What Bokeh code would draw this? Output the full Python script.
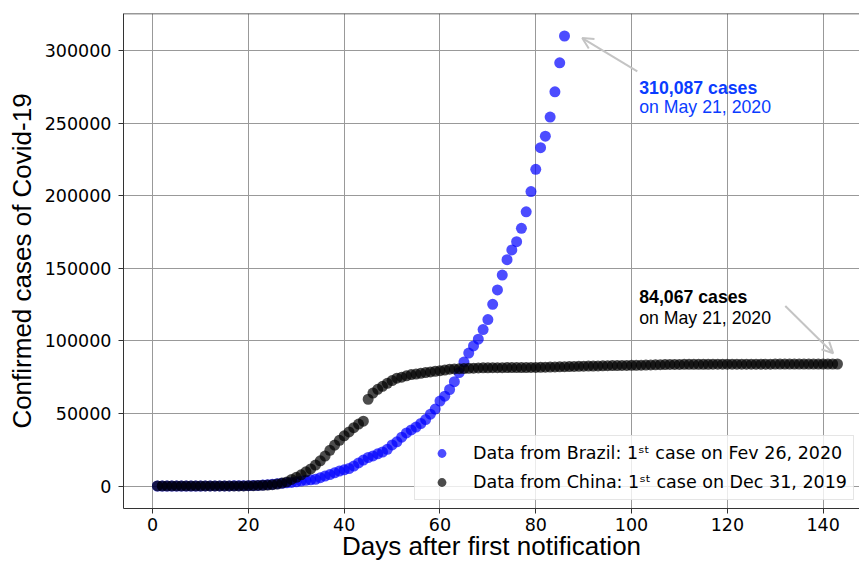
from bokeh.plotting import figure
from bokeh.models import (Range1d, Legend, LegendItem, Label, Arrow, OpenHead,
                          Span, SingleIntervalTicker, BasicTickFormatter)
from bokeh.embed import file_html
from bokeh.resources import INLINE

# Brazil: cumulative confirmed cases, day 1 = Feb 26, 2020
brazil_cases = [
    1, 1, 1, 2, 2, 2, 2, 3, 8, 13, 19, 25, 25, 34, 52, 77, 98, 121, 200, 234,
    291, 428, 621, 904, 1128, 1546, 1891, 2201, 2433, 2915, 3417, 3904, 4256,
    4579, 5717, 6836, 7910, 9056, 10278, 11130, 12056, 13717, 15927, 17857,
    19638, 20727, 22169, 23430, 25262, 28320, 30425, 33682, 36599, 38654,
    40581, 43079, 45757, 49492, 52995, 58509, 61888, 66501, 71886, 78162,
    85380, 91589, 96559, 101147, 107780, 114715, 125218, 135106, 145328,
    155939, 162699, 168331, 177589, 188974, 202918, 218223, 233142, 241080,
    254220, 271628, 291579, 310087,
]

# China: cumulative confirmed cases, day 1 = Dec 31, 2019
china_cases = [
    27, 27, 27, 44, 44, 59, 59, 59, 59, 59, 59, 59, 59, 59, 59, 59, 59,
    63, 80, 216, 235, 386, 526, 623, 882, 1323, 2019, 2792, 4535, 6000, 7741,
    9809, 11784, 14453, 17370, 20615, 24572, 28243, 31465, 34583, 37257,
    40217, 42693, 44675,
    59789, 64059, 66637, 68686, 70753, 72669, 74279, 75024, 75916, 76810,
    77152, 77671, 78190, 78641, 79071, 79498, 79917,
    80482, 80686, 80816, 80940, 81077, 81212, 81328, 81425, 81470, 81508,
    81534, 81554, 81578, 81598, 81614, 81638, 81668, 81697, 81744, 81814,
    81874, 81949, 82031, 82116, 82223, 82298, 82394, 82475, 82557, 82624,
    82691,
    82761, 82827, 82895, 82955, 83005, 83071, 83118, 83157, 83213, 83265,
    83314, 83410, 83503, 83597, 83659, 83760, 83787, 83805, 83817, 83853,
    83868, 83884, 83899, 83909, 83912, 83918, 83938, 83940, 83944, 83956,
    83959, 83959, 83964, 83966, 83970, 83975, 83976, 83990, 83995, 84010,
    84011, 84018, 84024, 84029, 84038, 84044, 84054, 84062, 84063, 84064,
    84067,
]

brazil_days = list(range(1, len(brazil_cases) + 1))
china_days = list(range(1, len(china_cases) + 1))

legend_labels = [
    "Data from Brazil: 1\u02e2\u1d57 case on Fev 26, 2020",
    "Data from China: 1\u02e2\u1d57 case on Dec 31, 2019",
]
x_label = "Days after first notification"
y_label = "Confirmed cases of Covid-19"
brazil_note = ["310,087 cases", "on May 21, 2020"]
china_note = ["84,067 cases", "on May 21, 2020"]

Y_END = 325600

p = figure(width=859, height=563, output_backend="svg", toolbar_location=None,
           x_range=Range1d(-6.09, 147.6), y_range=Range1d(-15500, Y_END),
           min_border_left=123, min_border_right=0, min_border_top=13,
           min_border_bottom=55)
p.outline_line_color = None
p.background_fill_color = "white"
p.border_fill_color = "white"

r_br = p.scatter(brazil_days, brazil_cases, size=11, fill_color="#0000ff",
                 fill_alpha=0.7, line_color=None)
r_cn = p.scatter(china_days, china_cases, size=11, fill_color="#000000",
                 fill_alpha=0.7, line_color=None)

# axes styling
p.xaxis.ticker = SingleIntervalTicker(interval=20)
p.yaxis.ticker = SingleIntervalTicker(interval=50000)
p.yaxis.formatter = BasicTickFormatter(use_scientific=False)
for ax in (p.xaxis, p.yaxis):
    ax.axis_line_color = "#333333"
    ax.axis_line_width = 1
    ax.major_tick_line_color = "#333333"
    ax.major_tick_out = 5
    ax.major_tick_in = 0
    ax.minor_tick_line_color = None
    ax.major_label_text_font = "DejaVu Sans"
    ax.major_label_text_font_size = "17.5px"
    ax.major_label_text_color = "black"
    ax.axis_label_text_font = "Liberation Sans"
    ax.axis_label_text_font_size = "26px"
    ax.axis_label_text_font_style = "normal"
    ax.axis_label_text_color = "black"
p.xaxis.axis_label = x_label
p.yaxis.axis_label = y_label
p.xaxis.major_label_standoff = 4
p.yaxis.major_label_standoff = 7
p.xaxis.axis_label_standoff = -3
p.yaxis.axis_label_standoff = 5

p.grid.grid_line_color = "#999999"
p.grid.grid_line_width = 1

# top spine
p.add_layout(Span(location=Y_END, dimension="width", line_color="#333333",
                  line_width=1.5))

# annotations
arrow_color = "#c4c4c4"
p.add_layout(Arrow(end=OpenHead(size=11, line_color=arrow_color, line_width=2),
                   x_start=101.2, y_start=285700, x_end=89.7, y_end=308700,
                   line_color=arrow_color, line_width=2))
p.add_layout(Arrow(end=OpenHead(size=11, line_color=arrow_color, line_width=2),
                   x_start=132.1, y_start=124100, x_end=142.1, y_end=91500,
                   line_color=arrow_color, line_width=2))

blue_txt = "#0a3cff"
p.add_layout(Label(x=101.6, y=274500, text=brazil_note[0], text_color=blue_txt,
                   text_font="Liberation Sans", text_font_size="17.7px",
                   text_font_style="bold", text_baseline="alphabetic"))
p.add_layout(Label(x=101.6, y=261200, text=brazil_note[1], text_color=blue_txt,
                   text_font="Liberation Sans", text_font_size="17.7px",
                   text_baseline="alphabetic"))
p.add_layout(Label(x=101.6, y=130500, text=china_note[0], text_color="black",
                   text_font="Liberation Sans", text_font_size="17.7px",
                   text_font_style="bold", text_baseline="alphabetic"))
p.add_layout(Label(x=101.6, y=116100, text=china_note[1], text_color="black",
                   text_font="Liberation Sans", text_font_size="17.7px",
                   text_baseline="alphabetic"))

legend = Legend(items=[LegendItem(label=legend_labels[0], renderers=[r_br]),
                       LegendItem(label=legend_labels[1], renderers=[r_cn])],
                location=(291, 8), margin=0, padding=6, spacing=7,
                glyph_width=41, glyph_height=22, label_height=22,
                label_standoff=11, label_text_font="DejaVu Sans",
                label_text_font_size="17.5px", label_text_color="black",
                border_line_color="#cccccc", border_line_width=1,
                background_fill_color="white", background_fill_alpha=0.8)
p.add_layout(legend)

open("out.html", "w").write(file_html(p, INLINE))
